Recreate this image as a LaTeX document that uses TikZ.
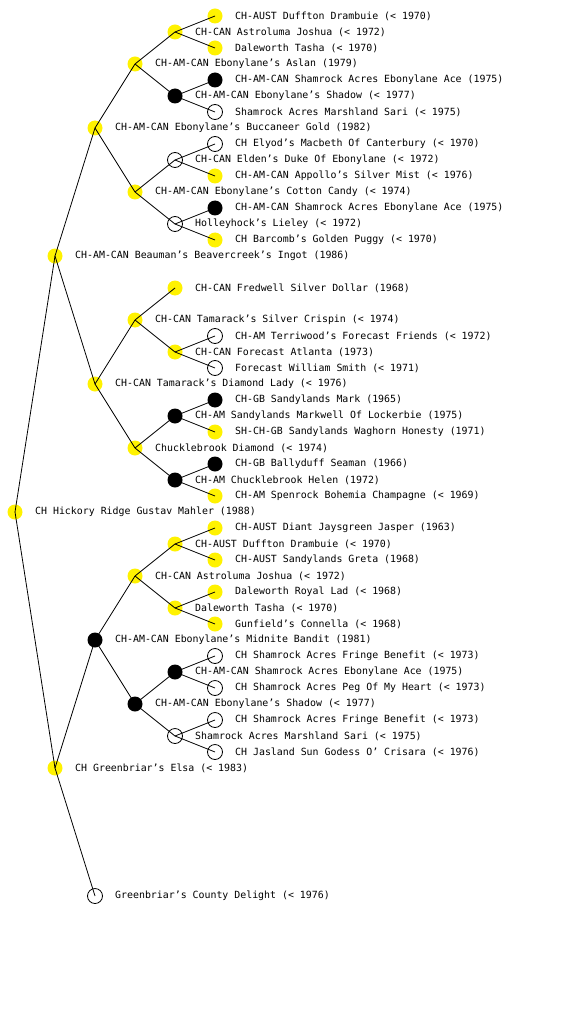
\documentclass[tikz,border=0pt]{standalone}
\usepackage{fontspec}
\setmonofont{DejaVu Sans Mono}
\begin{document}
\begin{tikzpicture}[x=1pt,y=-1pt,
 dog/.style={circle, minimum size=15pt, inner sep=0pt},
 yel/.style={dog, fill=yellow},
 blk/.style={dog, fill=black},
 wht/.style={dog, draw=black, line width=0.8pt},
 lbl/.style={anchor=west, font=\ttfamily\fontsize{9.9}{12}\selectfont, inner sep=0pt},
 edge/.style={line width=0.8pt}]
\fill[white] (0,0) rectangle (560,1024);
\useasboundingbox (0,0) rectangle (560,1024);
\foreach \x/\y/\s/\t in {
215/16/yel/{CH-AUST Duffton Drambuie (< 1970)},
175/32/yel/{CH-CAN Astroluma Joshua (< 1972)},
215/48/yel/{Daleworth Tasha (< 1970)},
135/64/yel/{CH-AM-CAN Ebonylane’s Aslan (1979)},
215/80/blk/{CH-AM-CAN Shamrock Acres Ebonylane Ace (1975)},
175/96/blk/{CH-AM-CAN Ebonylane’s Shadow (< 1977)},
215/112/wht/{Shamrock Acres Marshland Sari (< 1975)},
95/128/yel/{CH-AM-CAN Ebonylane’s Buccaneer Gold (1982)},
215/144/wht/{CH Elyod’s Macbeth Of Canterbury (< 1970)},
175/160/wht/{CH-CAN Elden’s Duke Of Ebonylane (< 1972)},
215/176/yel/{CH-AM-CAN Appollo’s Silver Mist (< 1976)},
135/192/yel/{CH-AM-CAN Ebonylane’s Cotton Candy (< 1974)},
215/208/blk/{CH-AM-CAN Shamrock Acres Ebonylane Ace (1975)},
175/224/wht/{Holleyhock’s Lieley (< 1972)},
215/240/yel/{CH Barcomb’s Golden Puggy (< 1970)},
55/256/yel/{CH-AM-CAN Beauman’s Beavercreek’s Ingot (1986)},
175/288/yel/{CH-CAN Fredwell Silver Dollar (1968)},
135/320/yel/{CH-CAN Tamarack’s Silver Crispin (< 1974)},
215/336/wht/{CH-AM Terriwood’s Forecast Friends (< 1972)},
175/352/yel/{CH-CAN Forecast Atlanta (1973)},
215/368/wht/{Forecast William Smith (< 1971)},
95/384/yel/{CH-CAN Tamarack’s Diamond Lady (< 1976)},
215/400/blk/{CH-GB Sandylands Mark (1965)},
175/416/blk/{CH-AM Sandylands Markwell Of Lockerbie (1975)},
215/432/yel/{SH-CH-GB Sandylands Waghorn Honesty (1971)},
135/448/yel/{Chucklebrook Diamond (< 1974)},
215/464/blk/{CH-GB Ballyduff Seaman (1966)},
175/480/blk/{CH-AM Chucklebrook Helen (1972)},
215/496/yel/{CH-AM Spenrock Bohemia Champagne (< 1969)},
15/512/yel/{CH Hickory Ridge Gustav Mahler (1988)},
215/528/yel/{CH-AUST Diant Jaysgreen Jasper (1963)},
175/544/yel/{CH-AUST Duffton Drambuie (< 1970)},
215/560/yel/{CH-AUST Sandylands Greta (1968)},
135/576/yel/{CH-CAN Astroluma Joshua (< 1972)},
215/592/yel/{Daleworth Royal Lad (< 1968)},
175/608/yel/{Daleworth Tasha (< 1970)},
215/624/yel/{Gunfield’s Connella (< 1968)},
95/640/blk/{CH-AM-CAN Ebonylane’s Midnite Bandit (1981)},
215/656/wht/{CH Shamrock Acres Fringe Benefit (< 1973)},
175/672/blk/{CH-AM-CAN Shamrock Acres Ebonylane Ace (1975)},
215/688/wht/{CH Shamrock Acres Peg Of My Heart (< 1973)},
135/704/blk/{CH-AM-CAN Ebonylane’s Shadow (< 1977)},
215/720/wht/{CH Shamrock Acres Fringe Benefit (< 1973)},
175/736/wht/{Shamrock Acres Marshland Sari (< 1975)},
215/752/wht/{CH Jasland Sun Godess O’ Crisara (< 1976)},
55/768/yel/{CH Greenbriar’s Elsa (< 1983)},
95/896/wht/{Greenbriar’s County Delight (< 1976)}} {
  \node[\s] (n\y) at (\x,\y) {};
  \node[lbl] (t\y) at (\x+20,\y) {\t};
}
\foreach \a/\b in {512/256, 512/768, 256/128, 256/384, 768/640, 768/896,
128/64, 128/192, 384/320, 384/448, 640/576, 640/704,
64/32, 64/96, 192/160, 192/224, 320/288, 320/352, 448/416, 448/480, 576/544, 576/608, 704/672, 704/736,
32/16, 32/48, 96/80, 96/112, 160/144, 160/176, 224/208, 224/240, 352/336, 352/368, 416/400, 416/432, 480/464, 480/496, 544/528, 544/560, 608/592, 608/624, 672/656, 672/688, 736/720, 736/752}
  \draw[edge] (n\a.center) -- (n\b.center);
\end{tikzpicture}
\end{document}
